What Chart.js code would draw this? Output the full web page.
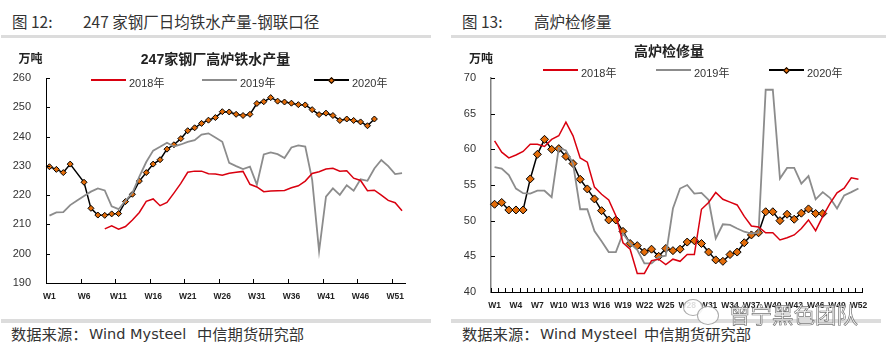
<!DOCTYPE html>
<html>
<head>
<meta charset="utf-8">
<script src="https://cdn.jsdelivr.net/npm/chart.js@4/dist/chart.umd.min.js"></script>
<style>
  html, body { margin: 0; padding: 0; background: #fff; width: 886px; height: 354px; overflow: hidden; }
  canvas { position: absolute; }
  .txt { position: absolute; white-space: pre; line-height: 1; color: #333; font-family: "Noto Sans CJK SC", sans-serif; }
  .rule { position: absolute; background: #dcdcdc; }
  .key { position: absolute; height: 2px; }
  .dot { position: absolute; background: #e36c09; border: 1px solid #000; transform: rotate(45deg); }
  .mark { color: rgba(255,255,255,0.7); -webkit-text-stroke: 0.7px #777; }
  .bubble { position: absolute; border: 1px solid #aaa; border-radius: 50%; background: rgba(255,255,255,0.85); }
</style>
</head>
<body>
<script>
// Figure 12 - 247 mills hot metal output
const weeks = [];
for (let w = 1; w <= 52; w++) weeks.push('W' + w);

const seriesNames = ['2018年', '2019年', '2020年'];

const mills2018 = [null, null, null, null, null, null, null, null,
  208.5, 209.5, 208.4, 209.3, 211.5, 214.1, 217.9, 218.7, 216.4, 217.5, 220.7, 224,
  227.8, 228.2, 228.2, 227.3, 227.2, 226.8, 227.5, 227.8, 228.1, 223.7, 222.8, 221.2,
  221.4, 221.5, 221.6, 222.5, 223.2, 224.8, 227.4, 228, 228.9, 229.2, 228.2, 228.3,
  225.8, 225, 221.5, 221.7, 220, 218.2, 217.4, 214.7];
const mills2019 = [213, 214.1, 214.2, 216.6, 218.2, 219.7, 221.2, 222.3, 221.6, 216.2,
  215.2, 218.1, 220.8, 226.3, 231.3, 235.2, 236.5, 237.9, 236.6, 237.3, 238.2, 238.8,
  240.7, 241.1, 239.7, 238.2, 231, 229.9, 228.9, 229.7, 223.6, 233.9, 234.6, 234, 232.7,
  236.3, 237, 236.6, 225.2, 200.9, 219.5, 222.3, 220.1, 223.4, 221.5, 225.4, 224.9,
  229.1, 232, 229.9, 227.2, 227.5];
const mills2020 = [229.7, 228.8, 227.7, 230.6, null, 224.4, 215.5, 213.2, 213.1, 213.6,
  213.7, 217.8, 220.3, 224.8, 227.7, 230.6, 232.1, 235.7, 237.2, 239.3, 242, 243, 244.5,
  245.6, 246.5, 248.5, 248.4, 247.6, 247.2, 247.6, 251.3, 251.9, 253.3, 252.1, 251.8,
  251.4, 250.9, 250.8, 249.2, 247.5, 248, 247.2, 245.5, 246, 245.5, 245, 243.7, 246];

// Figure 13 - blast furnace maintenance
const bf2018 = [61.2, 59.6, 58.8, 59.2, 59.7, 60.7, 60.7, 60.4, 61.4, 61.9, 63.8, 61.9,
  58.8, 58.2, 54.7, 53.7, 52.9, 50.7, 46.9, 46, 42.6, 42.6, 44.4, 44.6, 43.85, 44.6, 44.3,
  45.25, 45.25, 51.6, 52.55, 53.95, 53, 52.6, 52.2, 50.6, 49.25, 49.1, 48.3, 48.3, 47.3,
  47.6, 48, 48.9, 50.1, 48.6, 50.6, 52.4, 53.9, 54.55, 56, 55.8];
const bf2019 = [57.5, 57.3, 56.4, 54.5, 53.85, 53.8, 54.2, 54.2, 53.3, 60.2, 59.85, 58,
  51.6, 51.6, 48.55, 47.1, 45.6, 45.6, 48.2, 46.8, 45.9, 44, 44, 44.9, 45.1, 51.7, 54.5,
  55, 53.8, 53.9, 52.9, 47.5, 49.5, 49.4, 48.9, 48.45, 48.2, 48.3, 68.35, 68.35, 55.9,
  57.4, 57.4, 55.2, 56.25, 53, 54, 53.2, 51.7, 53.55, 54, 54.5];
const bf2020 = [52.3, 52.55, 51.5, 51.5, 51.5, 55.85, 59.3, 61.4, 60, 60.1, 59, 58, 55.8,
  54.45, 53.05, 51.4, 50.1, 50.1, 48.5, 46.8, 46.5, 45.6, 46, 45, 46.1, 45.8, 46, 47, 47.2,
  46.8, 45.6, 44.5, 44.3, 45.25, 45.6, 46.9, 48, 48.3, 51.25, 51.25, 50, 50.9, 50.2, 51.05,
  51.65, 51, 51];

const RED = '#d9000f';
const GREY = '#8c8c8c';
const ORANGE = '#e36c09';

function addText(x, y, str, css) {
  const el = document.createElement('div');
  el.className = 'txt';
  el.textContent = str;
  el.style.cssText = 'left:' + x + 'px;top:' + y + 'px;' + (css || '');
  document.body.appendChild(el);
  return el;
}

function addBox(cls, x, y, w, h, css) {
  const el = document.createElement('div');
  el.className = cls;
  el.style.cssText = 'left:' + x + 'px;top:' + y + 'px;width:' + w + 'px;height:' + h + 'px;' + (css || '');
  document.body.appendChild(el);
}

// Line + name, same look as the Excel style key in the report
function addKey(x, y, name, color, withDot) {
  addBox('key', x, y - 1, 35, 2, 'background:' + color);
  if (withDot) addBox('dot', x + 15, y - 2.5, 3, 3);
  addText(x + 38, y - 6, name, 'font:11px "Liberation Sans","Noto Sans CJK SC",sans-serif');
}

// Ticks point inwards here, so they are drawn from the scales after the axes
const insideTicks = {
  id: 'insideTicks',
  afterLayout(chart) {
    // title is centred on the whole panel, not only on the plot
    chart.titleBlock.right = chart.width;
  },
  afterDraw(chart, args, opts) {
    const ctx = chart.ctx;
    const x = chart.scales.x;
    const y = chart.scales.y;
    ctx.save();
    ctx.strokeStyle = '#000';
    ctx.lineWidth = 1;
    ctx.beginPath();
    y.ticks.forEach((t, i) => {
      const py = Math.round(y.getPixelForTick(i)) + 0.5;
      ctx.moveTo(y.right, py);
      ctx.lineTo(y.right + 4, py);
    });
    const step = x.getPixelForTick(1) - x.getPixelForTick(0);
    for (let i = 0; i <= weeks.length; i += opts.every) {
      const px = Math.round(x.getPixelForTick(0) + (i - 0.5) * step) + 0.5;
      ctx.moveTo(px, x.top);
      ctx.lineTo(px, x.top - 4);
    }
    ctx.stroke();
    ctx.restore();
  }
};

function makeChart(cfg) {
  const canvas = document.createElement('canvas');
  canvas.width = cfg.width;
  canvas.height = cfg.height;
  canvas.style.left = cfg.left + 'px';
  canvas.style.top = cfg.top + 'px';
  document.body.appendChild(canvas);

  new Chart(canvas, {
    type: 'line',
    data: {
      labels: weeks,
      datasets: [
        { label: seriesNames[0], data: cfg.series[0], borderColor: RED, borderWidth: 1.5, pointRadius: 0 },
        { label: seriesNames[1], data: cfg.series[1], borderColor: GREY, borderWidth: 1.8, pointRadius: 0 },
        {
          label: seriesNames[2], data: cfg.series[2], borderColor: '#000', borderWidth: 1.5, spanGaps: true,
          pointStyle: 'rectRot', pointRadius: cfg.markerSize, pointBackgroundColor: ORANGE,
          pointBorderColor: '#000', pointBorderWidth: 1
        }
      ]
    },
    options: {
      responsive: false,
      animation: false,
      layout: { padding: { left: 0, right: cfg.rightPad, top: 0, bottom: 0 } },
      plugins: {
        legend: { display: false },
        tooltip: { enabled: false },
        insideTicks: { every: cfg.tickEvery },
        title: {
          display: true,
          text: cfg.title,
          color: '#222',
          font: { family: '"Liberation Sans","Noto Sans CJK SC",sans-serif', size: 14, weight: 'bold' },
          padding: cfg.titlePad
        }
      },
      scales: {
        x: {
          offset: true,
          afterFit: s => { s.height = cfg.xHeight; },
          border: { color: '#000', width: 1 },
          grid: { offset: true, drawOnChartArea: false, drawTicks: false },
          ticks: {
            autoSkip: false,
            maxRotation: 0,
            padding: cfg.xLabelPad,
            color: '#222',
            font: { family: '"Liberation Sans",sans-serif', size: 8.5, weight: 'bold' },
            callback: function (v, i) { return i % cfg.labelEvery === 0 ? weeks[i] : ''; }
          }
        },
        y: {
          min: cfg.min,
          max: cfg.max,
          afterFit: s => { s.width = cfg.yWidth; },
          border: { color: cfg.yAxisColor, width: cfg.yAxisWidth },
          grid: { drawOnChartArea: false, drawTicks: false },
          ticks: {
            stepSize: cfg.step,
            padding: 15,
            color: '#333',
            font: { family: '"Liberation Sans",sans-serif', size: 11 }
          }
        }
      }
    },
    plugins: [insideTicks]
  });
}

// left chart
makeChart({
  left: 0, top: 40, width: 431, height: 268, rightPad: 25.5,
  series: [mills2018, mills2019, mills2020],
  title: '247家钢厂高炉铁水产量',
  titlePad: { top: 11.6, bottom: 9.6 },
  min: 190, max: 260, step: 10,
  xHeight: 25, xLabelPad: 9, yWidth: 46, yAxisColor: '#000', yAxisWidth: 1,
  tickEvery: 5, labelEvery: 5, markerSize: 3
});

// right chart
makeChart({
  left: 451, top: 40, width: 436, height: 275, rightPad: 25,
  series: [bf2018, bf2019, bf2020],
  title: '高炉检修量',
  titlePad: { top: 3.6, bottom: 17.6 },
  min: 40, max: 70, step: 5,
  xHeight: 23, xLabelPad: 9, yWidth: 40, yAxisColor: '#808080', yAxisWidth: 1.5,
  tickEvery: 1, labelEvery: 3, markerSize: 4
});

// headings
const headFont = 'font-size:15.5px;color:#333;';
addText(12, 14, '图 12:', headFont);
addText(83, 14, '247 家钢厂日均铁水产量-钢联口径', headFont);
addText(462, 14, '图 13:', headFont);
addText(534, 14, '高炉检修量', headFont);

addBox('rule', 1, 35, 430, 2.5);
addBox('rule', 451, 35, 435, 2.5);
addBox('rule', 1, 319, 430, 3.5);
addBox('rule', 451, 319, 430, 3.5);

// unit labels
addText(18.5, 52, '万吨', 'font-size:12px;font-weight:bold;color:#222');
addText(469, 52, '万吨', 'font-size:12px;font-weight:bold;color:#222');

// keys
addKey(91, 80, seriesNames[0], RED, false);
addKey(202, 80, seriesNames[1], GREY, false);
addKey(314, 80, seriesNames[2], '#000', true);
addKey(543, 70, seriesNames[0], RED, false);
addKey(656, 70, seriesNames[1], GREY, false);
addKey(769, 70, seriesNames[2], '#000', true);

// source lines
const srcCjk = 'font-size:15.3px;color:#333;';
const srcLat = 'font:14.5px "DejaVu Sans",sans-serif;color:#333;';
addText(11, 326, '数据来源：', srcCjk);
addText(89, 326, 'Wind Mysteel', srcLat);
addText(197, 326, '中信期货研究部', srcCjk);
addText(462, 326, '数据来源：', srcCjk);
addText(540, 326, 'Wind Mysteel', srcLat);
addText(644, 326, '中信期货研究部', srcCjk);

// watermark over the right chart
addBox('bubble', 683, 299, 18, 15);
addBox('bubble', 697, 306, 20, 17);
const wm = addText(729, 303, '曾宁黑色团队', 'font-size:21.5px;');
wm.classList.add('mark');
</script>
</body>
</html>
